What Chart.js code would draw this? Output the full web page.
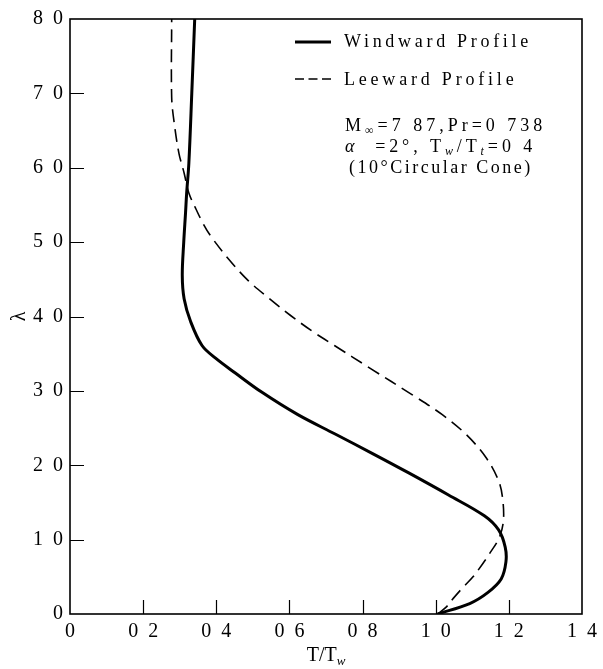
<!DOCTYPE html>
<html>
<head>
<meta charset="utf-8">
<script src="https://cdn.jsdelivr.net/npm/chart.js@4.4.1/dist/chart.umd.min.js"></script>
<style>
  html, body { margin: 0; padding: 0; background: #ffffff; }
  #wrap { width: 603px; height: 669px; }
</style>
</head>
<body>
<div id="wrap"><canvas id="c" width="603" height="669"></canvas></div>
<script>
// ---- data (lambda on the vertical axis, T/Tw on the horizontal) ----
const windwardLambda = [0.00, 0.14, 0.29, 0.47, 0.70, 0.90, 1.13, 1.32, 1.60, 1.90, 2.15, 2.42, 2.68, 2.98, 3.24, 3.44, 3.61, 3.93, 4.24, 4.55, 5.00, 5.40, 5.66, 6.06, 7.00, 8.00];
const windwardT      = [1.005, 1.093, 1.143, 1.179, 1.192, 1.190, 1.172, 1.133, 1.035, 0.925, 0.830, 0.725, 0.623, 0.525, 0.452, 0.398, 0.361, 0.330, 0.312, 0.307, 0.311, 0.316, 0.319, 0.325, 0.333, 0.341];

const leewardLambda = [0.00, 0.10, 0.21, 0.36, 0.50, 0.68, 0.81, 1.03, 1.25, 1.55, 1.79, 2.10, 2.41, 2.68, 2.95, 3.30, 3.61, 3.79, 4.01, 4.24, 4.48, 4.77, 5.08, 5.25, 5.46, 5.66, 5.93, 6.19, 6.60, 6.95, 8.00];
const leewardT      = [1.005, 1.030, 1.048, 1.075, 1.102, 1.129, 1.147, 1.174, 1.185, 1.183, 1.172, 1.138, 1.084, 1.018, 0.935, 0.822, 0.723, 0.666, 0.604, 0.545, 0.488, 0.434, 0.385, 0.364, 0.343, 0.325, 0.312, 0.298, 0.285, 0.278, 0.278];

const xTickLabels = ['0', '0\u20022', '0\u20024', '0\u20026', '0\u20028', '1\u20020', '1\u20022', '1\u20024'];
const yTickLabels = ['0', '1\u20020', '2\u20020', '3\u20020', '4\u20020', '5\u20020', '6\u20020', '7\u20020', '8\u20020'];
const seriesNames = ['Windward Profile', 'Leeward Profile'];
const yTitle = '\u03bb';

const FONT = "'Liberation Serif', 'Times New Roman', serif";
const toPoints = (xs, ys) => xs.map((v, i) => ({ x: v, y: ys[i] }));

function drawRuns(ctx, x, baseline, runs, spacing) {
  let cx = x;
  runs.forEach(r => {
    ctx.font = (r.italic ? 'italic ' : '') + r.size + 'px ' + FONT;
    try { ctx.letterSpacing = spacing + 'px'; } catch (e) {}
    ctx.fillText(r.t, cx, baseline + (r.dy || 0));
    cx += ctx.measureText(r.t).width;
  });
  try { ctx.letterSpacing = '0px'; } catch (e) {}
}

const overlay = {
  id: 'overlay',
  afterDatasetsDraw(chart) {
    const { ctx, chartArea: a, scales: { x, y } } = chart;
    ctx.save();
    ctx.strokeStyle = '#000';
    ctx.fillStyle = '#000';
    // frame
    ctx.lineWidth = 1.6;
    ctx.strokeRect(a.left, a.top, a.right - a.left, a.bottom - a.top);
    // inward tick marks
    ctx.lineWidth = 1.2;
    ctx.beginPath();
    y.ticks.forEach((t, i) => {
      if (i === 0 || i === y.ticks.length - 1) return;
      const py = Math.round(y.getPixelForValue(t.value)) + 0.5;
      ctx.moveTo(a.left, py); ctx.lineTo(a.left + 14, py);
    });
    x.ticks.forEach((t, i) => {
      if (i === 0 || i === x.ticks.length - 1) return;
      const px = Math.round(x.getPixelForValue(t.value)) + 0.5;
      ctx.moveTo(px, a.bottom); ctx.lineTo(px, a.bottom - 14);
    });
    ctx.stroke();

    // legend samples
    ctx.lineWidth = 3;
    ctx.beginPath(); ctx.moveTo(295, 42); ctx.lineTo(331, 42); ctx.stroke();
    ctx.lineWidth = 1.5;
    ctx.setLineDash([9, 4.5]);
    ctx.beginPath(); ctx.moveTo(295, 79); ctx.lineTo(331, 79); ctx.stroke();
    ctx.setLineDash([]);

    ctx.textBaseline = 'alphabetic';
    ctx.textAlign = 'left';
    drawRuns(ctx, 344, 47, [{ t: seriesNames[0], size: 18 }], 3.7);
    drawRuns(ctx, 344, 85, [{ t: seriesNames[1], size: 18 }], 3.8);
    drawRuns(ctx, 345, 131, [
      { t: 'M', size: 18 }, { t: '\u221e', size: 12, dy: 3 }, { t: '=7 87,Pr=0 738', size: 18 }
    ], 4.0);
    drawRuns(ctx, 345, 152, [
      { t: '\u03b1', size: 18, italic: true }, { t: '  =2\u00b0, T', size: 18 },
      { t: 'w', size: 12, italic: true, dy: 3 }, { t: '/T', size: 18 },
      { t: 't', size: 12, italic: true, dy: 3 }, { t: '=0 4', size: 18 }
    ], 3.9);
    drawRuns(ctx, 349, 173, [{ t: '(10\u00b0Circular Cone)', size: 18 }], 2.5);

    // x-axis title T/Tw
    const runs = [{ t: 'T/T', size: 20 }, { t: 'w', size: 13, italic: true, dy: 4 }];
    ctx.font = '20px ' + FONT;
    let w = ctx.measureText('T/T').width;
    ctx.font = 'italic 13px ' + FONT;
    w += ctx.measureText('w').width;
    drawRuns(ctx, (a.left + a.right) / 2 - w / 2, 661, runs, 0);
    ctx.restore();
  }
};

new Chart(document.getElementById('c').getContext('2d'), {
  type: 'scatter',
  data: {
    datasets: [
      {
        label: seriesNames[0],
        data: toPoints(windwardT, windwardLambda),
        showLine: true,
        borderColor: '#000',
        borderWidth: 3,
        pointRadius: 0,
        tension: 0.35,
        fill: false
      },
      {
        label: seriesNames[1],
        data: toPoints(leewardT, leewardLambda),
        showLine: true,
        borderColor: '#000',
        borderWidth: 1.6,
        borderDash: [13, 7],
        pointRadius: 0,
        tension: 0.35,
        fill: false
      }
    ]
  },
  options: {
    responsive: false,
    animation: false,
    devicePixelRatio: 1,
    layout: { padding: { left: 0, right: 16, top: 15, bottom: 0 } },
    plugins: { legend: { display: false }, tooltip: { enabled: false } },
    scales: {
      x: {
        type: 'linear', min: 0, max: 1.4,
        ticks: {
          stepSize: 0.2, autoSkip: false, maxRotation: 0,
          callback: (v, i) => xTickLabels[i],
          font: { family: FONT, size: 20 }, color: '#000', padding: 6
        },
        grid: { display: false, drawTicks: false },
        border: { display: false },
        afterFit: s => { s.height = 669 - 614; }
      },
      y: {
        type: 'linear', min: 0, max: 8,
        ticks: {
          stepSize: 1, autoSkip: false,
          callback: (v, i) => yTickLabels[i],
          font: { family: FONT, size: 20 }, color: '#000', padding: 7
        },
        title: { display: true, text: yTitle, font: { family: FONT, size: 20 }, color: '#000', padding: { top: 8, bottom: 0 } },
        grid: { display: false, drawTicks: false },
        border: { display: false },
        afterFit: s => { s.width = 70; }
      }
    }
  },
  plugins: [overlay]
});
</script>
</body>
</html>
